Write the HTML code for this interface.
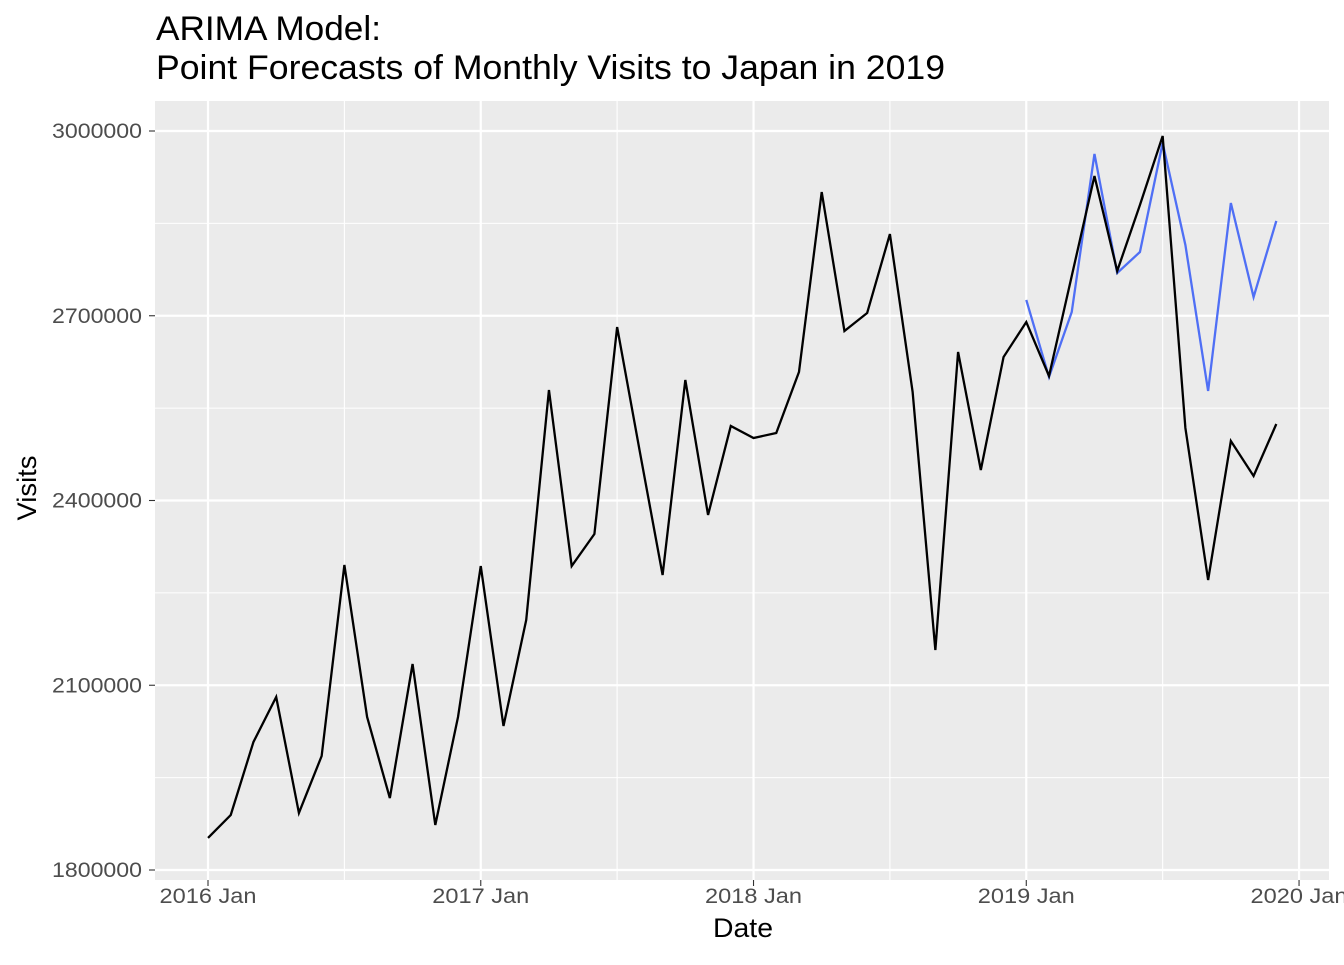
<!DOCTYPE html>
<html><head><meta charset="utf-8"><style>
body{margin:0;background:#fff;font-family:"Liberation Sans",sans-serif}
</style></head><body>
<svg id="chart" width="1344" height="960" xmlns="http://www.w3.org/2000/svg">
<text x="156" y="40" font-size="34" textLength="225" lengthAdjust="spacingAndGlyphs" fill="#000">ARIMA Model:</text>
<text x="156" y="79" font-size="34" textLength="789" lengthAdjust="spacingAndGlyphs" fill="#000">Point Forecasts of Monthly Visits to Japan in 2019</text>
<rect x="155" y="101" width="1174" height="779" fill="#ebebeb"/>
<g id="grid"></g><g id="series"></g><g id="axes"></g>
<text x="743" y="937" font-size="27" textLength="60" lengthAdjust="spacingAndGlyphs" text-anchor="middle">Date</text>
<text transform="translate(36,488) rotate(-90)" font-size="27" textLength="65" lengthAdjust="spacingAndGlyphs" text-anchor="middle">Visits</text>
</svg>
<script>
const actual=[1852000,1889300,2007900,2080900,1892600,1985100,2295300,2048500,1916900,2134500,1873100,2048500,
2293600,2033800,2206000,2579400,2293600,2345600,2681700,2478800,2279000,2595700,2376500,2521000,
2501500,2509600,2608700,2900900,2675200,2704500,2832700,2576200,2157200,2641100,2449500,2633000,
2689800,2602200,2764500,2926900,2772700,2879800,2991900,2517700,2270900,2496600,2439800,2524200];
const forecast=[2725600,2600500,2706100,2962700,2769400,2803500,2980500,2814900,2577800,2883100,2730400,2853900];
const forecastStart=36;
const yTicks=[1800000,2100000,2400000,2700000,3000000];
const xTickLabels=["2016 Jan","2017 Jan","2018 Jan","2019 Jan","2020 Jan"];
const NS="http://www.w3.org/2000/svg";
const X=m=>208+m*22.73;
const Y=v=>131+(3000000-v)/1200000*739;
function mk(t,a,p){const e=document.createElementNS(NS,t);for(const k in a)e.setAttribute(k,a[k]);p.appendChild(e);return e;}
const grid=document.getElementById('grid'),ser=document.getElementById('series'),ax=document.getElementById('axes');
for(let i=0;i<yTicks.length;i++){
 const y=Y(yTicks[i]);
 const l=mk('line',{x1:155,x2:1329,y1:y,y2:y,stroke:'#fff','stroke-width':2.2},grid);
 
 
 if(i<yTicks.length-1){const ym=Y((yTicks[i]+yTicks[i+1])/2);
  const m=mk('line',{x1:155,x2:1329,y1:ym,y2:ym,stroke:'#fff','stroke-width':1.1},grid);
  
  }
 mk('line',{x1:149,x2:155,y1:y,y2:y,stroke:'#333','stroke-width':1.1},ax);
 const t=mk('text',{x:142,y:y+7,'font-size':21,fill:'#4d4d4d','text-anchor':'end',textLength:90,lengthAdjust:'spacingAndGlyphs'},ax);
 t.textContent=yTicks[i];
 
 
}
for(let i=0;i<xTickLabels.length;i++){
 const x=X(i*12);
 const l=mk('line',{x1:x,x2:x,y1:101,y2:880,stroke:'#fff','stroke-width':2.2},grid);
 
 
 if(i<xTickLabels.length-1){const xm=X(i*12+6);
  const m=mk('line',{x1:xm,x2:xm,y1:101,y2:880,stroke:'#fff','stroke-width':1.1},grid);
  
  }
 mk('line',{x1:x,x2:x,y1:880,y2:886,stroke:'#333','stroke-width':1.1},ax);
 const t=mk('text',{x:x,y:903,'font-size':21,fill:'#4d4d4d','text-anchor':'middle',textLength:97,lengthAdjust:'spacingAndGlyphs'},ax);
 t.textContent=xTickLabels[i];
 
 
}
const fp=mk('polyline',{points:forecast.map((v,i)=>X(forecastStart+i)+','+Y(v)).join(' '),fill:'none',stroke:'#4f6ff5','stroke-width':2.3},ser);


const ap=mk('polyline',{points:actual.map((v,i)=>X(i)+','+Y(v)).join(' '),fill:'none',stroke:'#000','stroke-width':2.3},ser);


</script>
</body></html>
